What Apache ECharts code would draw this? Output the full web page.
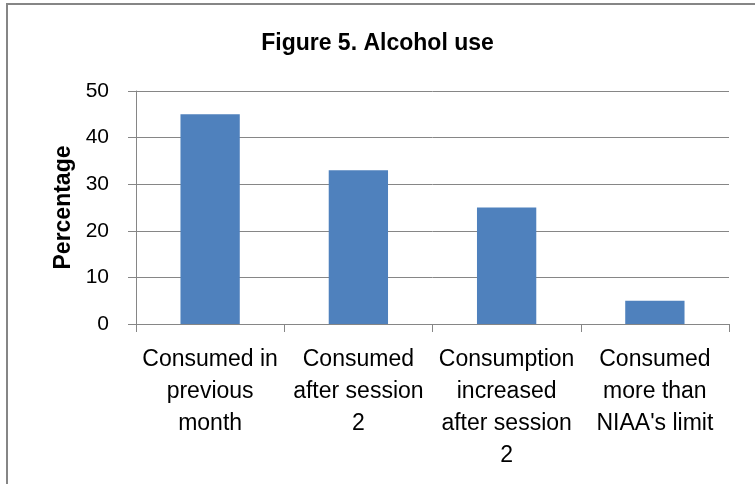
<!DOCTYPE html>
<html>
<head>
<meta charset="utf-8">
<script src="https://cdn.jsdelivr.net/npm/echarts@6/dist/echarts.min.js"></script>
<style>
  html, body { margin: 0; padding: 0; background: #fff; }
  #chart { width: 755px; height: 484px; }
</style>
</head>
<body>
<div id="chart"></div>
<script>
// Alcohol use survey results (percentage of respondents)
const categories = [
  'Consumed in\nprevious\nmonth',
  'Consumed\nafter session\n2',
  'Consumption\nincreased\nafter session\n2',
  'Consumed\nmore than\nNIAA\'s limit'
];
const percentages = [45, 33, 25, 5];
const yTicks = { min: 0, max: 50, interval: 10 };

const FONT = 'Liberation Sans, Arial, sans-serif';
const GRAY = '#868686';

const chart = echarts.init(document.getElementById('chart'), null, { renderer: 'canvas' });
chart.setOption({
  animation: false,
  backgroundColor: '#fff',
  title: {
    text: 'Figure 5. Alcohol use',
    left: 'center',
    top: 27,
    textStyle: { fontFamily: FONT, fontSize: 23, fontWeight: 'bold', color: '#000' }
  },
  graphic: [{
    type: 'rect',
    shape: { x: 7, y: 4, width: 800, height: 520 },
    style: { fill: 'none', stroke: GRAY, lineWidth: 2 },
    silent: true
  }],
  grid: { left: 136, right: 26, top: 91, bottom: 160 },
  xAxis: {
    type: 'category',
    data: categories,
    axisLine: { lineStyle: { color: GRAY, width: 1 } },
    axisTick: { show: true, length: 8, lineStyle: { color: GRAY } },
    axisLabel: {
      color: '#000', fontFamily: FONT, fontSize: 23, lineHeight: 32,
      margin: 20, interval: 0, align: 'center'
    }
  },
  yAxis: {
    type: 'value',
    min: yTicks.min, max: yTicks.max, interval: yTicks.interval,
    name: 'Percentage',
    nameLocation: 'middle',
    nameGap: 61,
    nameTextStyle: { fontFamily: FONT, fontSize: 23, fontWeight: 'bold', color: '#000' },
    axisLine: { show: true, lineStyle: { color: GRAY } },
    axisTick: { show: true, length: 8, lineStyle: { color: GRAY } },
    axisLabel: { color: '#000', fontFamily: FONT, fontSize: 21, margin: 27 },
    splitLine: { lineStyle: { color: GRAY, width: 1 } }
  },
  series: [{
    type: 'bar',
    data: percentages,
    barWidth: '40%',
    itemStyle: { color: '#4f81bd' }
  }]
});
</script>
</body>
</html>
